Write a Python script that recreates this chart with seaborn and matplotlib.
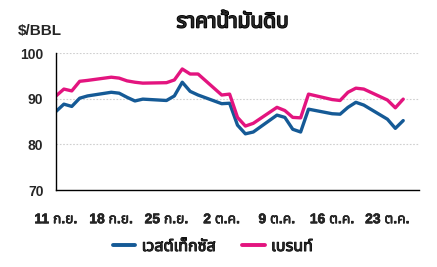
import numpy as np
import pandas as pd
import matplotlib
matplotlib.use("Agg")
import matplotlib.pyplot as plt
import matplotlib.patheffects as pe
from matplotlib import font_manager as fm
from matplotlib.ft2font import FT2Font
from matplotlib.lines import Line2D
import seaborn as sns

# ---------------- data ----------------
dates = ["2023-09-11", "2023-09-12", "2023-09-13", "2023-09-14", "2023-09-15",
         "2023-09-18", "2023-09-19", "2023-09-20", "2023-09-21", "2023-09-22",
         "2023-09-25", "2023-09-26", "2023-09-27", "2023-09-28", "2023-09-29",
         "2023-10-02", "2023-10-03", "2023-10-04", "2023-10-05", "2023-10-06",
         "2023-10-09", "2023-10-10", "2023-10-11", "2023-10-12", "2023-10-13",
         "2023-10-16", "2023-10-17", "2023-10-18", "2023-10-19", "2023-10-20",
         "2023-10-23", "2023-10-24", "2023-10-25"]
wti = [87.2, 88.8, 88.3, 90.1, 90.6,
       91.4, 91.2, 90.3, 89.5, 89.9,
       89.6, 90.6, 93.6, 91.6, 90.8,
       88.9, 89.0, 84.2, 82.3, 82.7,
       86.4, 85.9, 83.3, 82.7, 87.7,
       86.7, 86.6, 88.1, 89.2, 88.6,
       85.5, 83.5, 85.2]
brent = [90.6, 92.1, 91.7, 93.8, 94.0,
         94.7, 94.5, 93.9, 93.6, 93.4,
         93.5, 94.1, 96.5, 95.4, 95.4,
         90.8, 91.0, 85.9, 84.0, 84.6,
         88.1, 87.4, 85.9, 85.8, 91.0,
         89.8, 89.6, 91.4, 92.3, 92.1,
         89.7, 88.0, 89.9]
series_names = ["เวสต์เท็กซัส", "เบรนท์"]
tick_dates = ["2023-09-11", "2023-09-18", "2023-09-25", "2023-10-02",
              "2023-10-09", "2023-10-16", "2023-10-23"]
tick_labels = ["11 ก.ย.", "18 ก.ย.", "25 ก.ย.", "2 ต.ค.", "9 ต.ค.", "16 ต.ค.", "23 ต.ค."]
y_ticks = [70, 80, 90, 100]
title_text = "ราคาน้ำมันดิบ"
unit_text = "$/BBL"
colors = ["#155a96", "#e3147f"]

# ---------------- fonts ----------------
def find_thai_font():
    pref = ["Noto Sans Thai", "Noto Sans Thai UI", "Loma", "Garuda", "Tlwg Typo",
            "Sarabun", "Waree", "Umpush", "Kinnari", "Norasi", "Laksaman",
            "Leelawadee UI", "Tahoma", "FreeSans", "Arial Unicode MS"]
    found = []
    for f in fm.fontManager.ttflist:
        if f.name in found:
            continue
        try:
            cm = FT2Font(f.fname).get_charmap()
        except Exception:
            continue
        if 0x0E23 in cm and 0x0E32 in cm and 0x0E49 in cm:
            found.append(f.name)
    for p in pref:
        if p in found:
            return p
    return found[0] if found else None

sns.set_theme(style="white")
thai = find_thai_font()
fam = ["Liberation Sans"] + ([thai] if thai else []) + ["DejaVu Sans"]
thai_fam = ([thai] if thai else []) + ["Liberation Sans", "DejaVu Sans"]
plt.rcParams["font.family"] = fam

# ---------------- frame ----------------
df = pd.DataFrame({
    "date": pd.to_datetime(dates * 2),
    "value": wti + brent,
    "series": [series_names[0]] * len(dates) + [series_names[1]] * len(dates),
})

fig = plt.figure(figsize=(4.37, 2.67), dpi=100)
ax = fig.add_axes([56 / 437, 1 - 190 / 267, (419 - 56) / 437, (190 - 53) / 267])

sns.lineplot(data=df, x="date", y="value", hue="series", palette=colors,
             linewidth=2.4, ax=ax, legend=False)

ax.set_xlim(pd.Timestamp("2023-09-11"), pd.Timestamp("2023-10-27"))
ax.set_ylim(70, 100)
ax.set_yticks(y_ticks)
ax.set_yticklabels([str(v) for v in y_ticks], fontsize=10, fontweight="bold")
ax.set_xticks(pd.to_datetime(tick_dates))
ax.set_xticklabels(tick_labels, fontsize=10, fontweight="bold", family=fam)
for t in ax.get_xticklabels():
    t.set_path_effects([pe.withStroke(linewidth=0.4, foreground="black")])
ax.set_xlabel("")
ax.set_ylabel("")

for v in [80, 90, 100]:
    ax.axhline(v, color="#cfcfcf", lw=0.8, ls=(0, (1.5, 1.5)), zorder=0)

for s in ["top", "right"]:
    ax.spines[s].set_visible(False)
for s in ["left", "bottom"]:
    ax.spines[s].set_color("black")
    ax.spines[s].set_linewidth(1.0)

ax.tick_params(axis="x", direction="out", length=5, width=1, color="black", pad=11)
ax.tick_params(axis="y", direction="out", length=3, width=1, color="black", pad=6)

fig.text(0.532, 1 - 22 / 267, title_text, ha="center", va="center",
         fontsize=15, fontweight="bold", family=thai_fam,
         path_effects=[pe.withStroke(linewidth=1.2, foreground="black")])
fig.text(18 / 437, 1 - 31 / 267, unit_text, ha="left", va="center",
         fontsize=11, fontweight="bold")

handles = [Line2D([0], [0], color=c, lw=2.8) for c in colors]
leg = fig.legend(handles, series_names, loc="center", bbox_to_anchor=(0.487, 1 - 247 / 267),
                 ncol=2, frameon=False, handlelength=1.4, handletextpad=0.4,
                 columnspacing=1.7, prop={"family": thai_fam, "size": 11.5, "weight": "bold"})
for t in leg.get_texts():
    t.set_path_effects([pe.withStroke(linewidth=0.7, foreground="black")])

fig.savefig("out.png", dpi=100)
